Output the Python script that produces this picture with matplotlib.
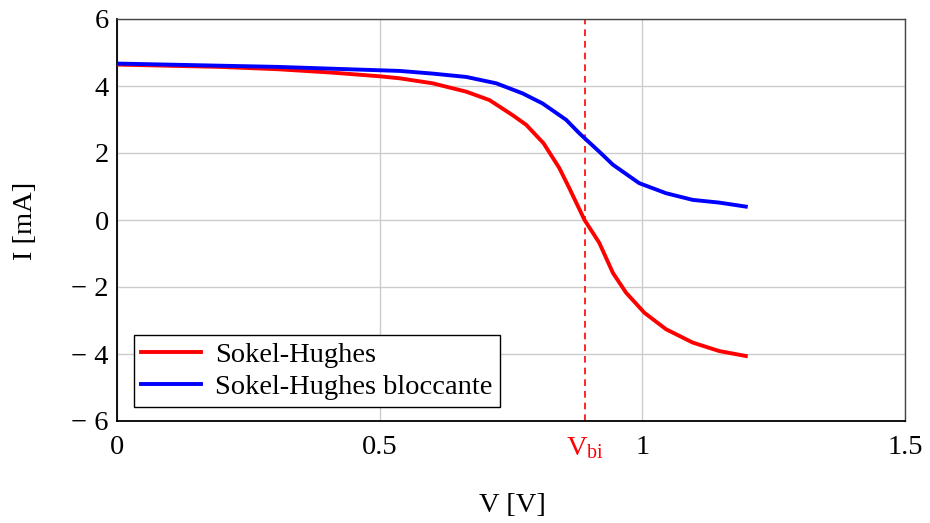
import matplotlib
matplotlib.use("Agg")
import matplotlib.pyplot as plt

plt.rcParams['font.family'] = ['Liberation Serif', 'DejaVu Serif']
plt.rcParams['mathtext.fontset'] = 'custom'
plt.rcParams['mathtext.rm'] = 'Liberation Serif'
plt.rcParams['mathtext.it'] = 'Liberation Serif:italic'

# Data
v_red = [0.0, 0.197, 0.307, 0.409, 0.5, 0.538, 0.601, 0.665, 0.709, 0.753, 0.779,
         0.812, 0.842, 0.861, 0.890, 0.918, 0.944, 0.969, 1.004, 1.045, 1.096, 1.146, 1.197]
i_red = [4.64, 4.57, 4.50, 4.40, 4.29, 4.23, 4.08, 3.83, 3.58, 3.13, 2.84,
         2.29, 1.55, 0.95, 0.0, -0.68, -1.58, -2.17, -2.77, -3.26, -3.66, -3.91, -4.06]

v_blue = [0.0, 0.307, 0.460, 0.538, 0.601, 0.665, 0.722, 0.772, 0.810, 0.855, 0.880,
          0.893, 0.918, 0.944, 0.994, 1.045, 1.096, 1.146, 1.197]
i_blue = [4.67, 4.57, 4.49, 4.45, 4.37, 4.27, 4.08, 3.78, 3.48, 2.99, 2.59,
          2.40, 2.04, 1.65, 1.10, 0.80, 0.60, 0.52, 0.40]

v_bi = 0.89
x_ticks = [0, 0.5, 1, 1.5]
x_tick_labels = ["0", "0.5", "1", "1.5"]
y_ticks = [-6, -4, -2, 0, 2, 4, 6]
y_tick_labels = ["\u2212 6", "\u2212 4", "\u2212 2", "0", "2", "4", "6"]

FS = 20.5
fig = plt.figure(figsize=(9.3, 5.23), dpi=100)
ax = fig.add_axes([117 / 930, 1 - 421 / 523, (905 - 117) / 930, (421 - 19) / 523])

ax.plot(v_red, i_red, color='#ff0000', lw=2.8, label='Sokel-Hughes', zorder=3,
        solid_joinstyle='round')
ax.plot(v_blue, i_blue, color='#0000ff', lw=2.8, label='Sokel-Hughes bloccante', zorder=3,
        solid_joinstyle='round')
ax.axvline(v_bi, color='#ff0000', lw=1.2, ls=(0, (4, 3)), zorder=2)

ax.set_xlim(0, 1.5)
ax.set_ylim(-6, 6)
ax.set_xticks(x_ticks + [v_bi])
ax.set_xticklabels(x_tick_labels + [r"$\mathrm{V}_{\mathrm{bi}}$"])
ax.get_xticklabels()[-1].set_color('#ff0000')
ax.set_yticks(y_ticks)
ax.set_yticklabels(y_tick_labels)
ax.tick_params(length=0, labelsize=FS)
ax.tick_params(axis='x', pad=10)
ax.tick_params(axis='y', pad=6)

ax.grid(True, color='#cccccc', lw=1.0)
for gl, t in zip(ax.get_xgridlines(), x_ticks + [v_bi]):
    if t == v_bi:
        gl.set_visible(False)
ax.set_axisbelow(True)
for s in ['top', 'right']:
    ax.spines[s].set_color('#444444')
    ax.spines[s].set_linewidth(1.0)
for s in ['left', 'bottom']:
    ax.spines[s].set_color('black')
    ax.spines[s].set_linewidth(1.3)

fig.text(512 / 930, 1 - 506 / 523, "V [V]", fontsize=FS, ha='center', va='center')
fig.text(26 / 930, 1 - 221 / 523, "I [mA]", fontsize=FS, ha='center', va='center',
         rotation=90)

leg = ax.legend(loc='lower left', bbox_to_anchor=(17 / 788, 14 / 402), fontsize=FS,
                frameon=True, fancybox=False, edgecolor='black', framealpha=1,
                handlelength=2.1, borderpad=0.25, labelspacing=0.2, handletextpad=0.5,
                borderaxespad=0.0)
leg.get_frame().set_linewidth(1.0)

fig.savefig("out.png", dpi=100)
